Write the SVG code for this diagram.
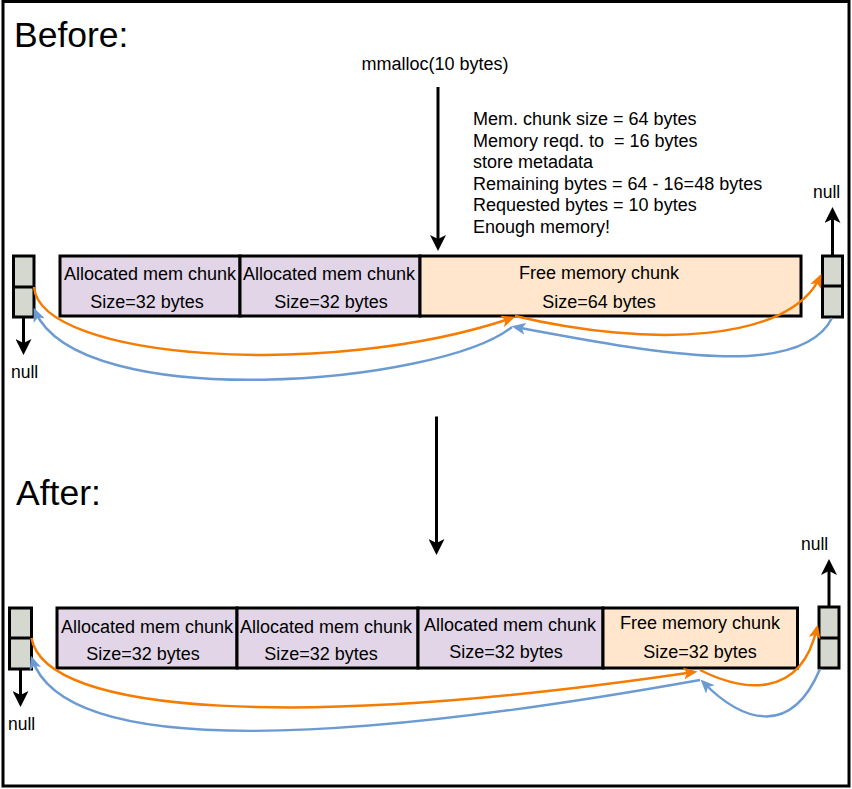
<svg xmlns="http://www.w3.org/2000/svg" width="852" height="789" viewBox="0 0 852 789">
<style>
text{font-family:"Liberation Sans",Arial,Helvetica,sans-serif;fill:#000;white-space:pre}
.t{font-size:18px}
.n{font-size:17.5px}
.h{font-size:35.5px}
.c{text-anchor:middle}
.alloc{fill:#E1D5E7;stroke:#000;stroke-width:3}
.free{fill:#FFE6CC;stroke:#000;stroke-width:3}
.ptr{fill:#D4D8CF;stroke:#000;stroke-width:3}
.blk{fill:none;stroke:#000;stroke-width:3;marker-end:url(#ab)}
.or{fill:none;stroke:#F57C00;stroke-width:2.5;marker-end:url(#ao)}
.bl{fill:none;stroke:#6C9BD2;stroke-width:2.5;marker-end:url(#abl)}
</style>
<defs>
<marker id="ab" markerUnits="userSpaceOnUse" viewBox="0 0 16 16" markerWidth="16" markerHeight="16" refX="12" refY="8" orient="auto"><path d="M0,0 L16,8 L0,16 L4,8 Z" fill="#000"/></marker>
<marker id="ao" markerUnits="userSpaceOnUse" viewBox="0 0 14 12" markerWidth="14" markerHeight="12" refX="10.5" refY="6" orient="auto"><path d="M0,0 L14,6 L0,12 L3.5,6 Z" fill="#F57C00"/></marker>
<marker id="abl" markerUnits="userSpaceOnUse" viewBox="0 0 14 12" markerWidth="14" markerHeight="12" refX="10.5" refY="6" orient="auto"><path d="M0,0 L14,6 L0,12 L3.5,6 Z" fill="#6C9BD2"/></marker>
</defs>
<rect x="3" y="1.5" width="846" height="784.5" fill="#fff" stroke="#000" stroke-width="3"/>

<g id="titles">
<text class="h" x="14" y="47">Before:</text>
<text class="h" x="16" y="505">After:</text>
</g>

<g id="mmalloc-label"><text class="t c" x="435" y="70">mmalloc(10 bytes)</text></g>
<g id="info">
<text class="t" x="473" y="125">Mem. chunk size = 64 bytes</text>
<text class="t" x="473" y="146.5" xml:space="preserve">Memory reqd. to  = 16 bytes</text>
<text class="t" x="473" y="168">store metadata</text>
<text class="t" x="473" y="189.5">Remaining bytes = 64 - 16=48 bytes</text>
<text class="t" x="473" y="211">Requested bytes = 10 bytes</text>
<text class="t" x="473" y="232.5">Enough memory!</text>
</g>

<!-- Before row -->
<g id="b-ptr-left"><rect class="ptr" x="13.5" y="256" width="20.5" height="61"/><line x1="13.5" y1="287" x2="34" y2="287" stroke="#000" stroke-width="3"/></g>
<g id="b-alloc1"><rect class="alloc" x="60" y="256" width="180" height="60"/><text class="t c" x="150" y="280">Allocated mem chunk</text><text class="t c" x="147" y="308">Size=32 bytes</text></g>
<g id="b-alloc2"><rect class="alloc" x="240" y="256" width="180" height="60"/><text class="t c" x="329" y="280">Allocated mem chunk</text><text class="t c" x="331" y="308">Size=32 bytes</text></g>
<g id="b-free"><rect class="free" x="420" y="256" width="381" height="60"/><text class="t c" x="599" y="279">Free memory chunk</text><text class="t c" x="599" y="308">Size=64 bytes</text></g>
<g id="b-ptr-right"><rect class="ptr" x="822.5" y="256" width="20" height="61"/><line x1="822.5" y1="286" x2="842.5" y2="286" stroke="#000" stroke-width="3"/></g>
<g id="b-null-left"><text class="n" x="11" y="378">null</text></g>
<g id="b-null-right"><text class="n" x="813" y="198">null</text></g>

<!-- After row -->
<g id="a-ptr-left"><rect class="ptr" x="9.5" y="608" width="22" height="61"/><line x1="9.5" y1="638" x2="31.5" y2="638" stroke="#000" stroke-width="3"/></g>
<g id="a-alloc1"><rect class="alloc" x="57" y="608" width="180" height="60"/><text class="t c" x="147" y="633">Allocated mem chunk</text><text class="t c" x="143" y="660">Size=32 bytes</text></g>
<g id="a-alloc2"><rect class="alloc" x="237" y="608" width="181" height="60"/><text class="t c" x="326" y="633">Allocated mem chunk</text><text class="t c" x="321" y="660">Size=32 bytes</text></g>
<g id="a-alloc3"><rect class="alloc" x="418" y="608" width="185" height="60"/><text class="t c" x="510" y="631">Allocated mem chunk</text><text class="t c" x="506" y="658">Size=32 bytes</text></g>
<g id="a-free"><rect class="free" x="603" y="608" width="194.5" height="60"/><text class="t c" x="700" y="629">Free memory chunk</text><text class="t c" x="700" y="658">Size=32 bytes</text></g>
<g id="a-ptr-right"><rect class="ptr" x="819" y="607" width="20" height="61"/><line x1="819" y1="638" x2="839" y2="638" stroke="#000" stroke-width="3"/></g>
<g id="a-null-left"><text class="n" x="8" y="730">null</text></g>
<g id="a-null-right"><text class="n" x="801" y="550">null</text></g>

<g id="connectors">
<line class="blk" x1="438" y1="87" x2="438" y2="247"/>
<line class="blk" x1="436.5" y1="416.5" x2="436.5" y2="551"/>
<line class="blk" x1="23.5" y1="317" x2="23.5" y2="351"/>
<line class="blk" x1="832.5" y1="256" x2="832.5" y2="211"/>
<line class="blk" x1="20.5" y1="669" x2="20.5" y2="703"/>
<line class="blk" x1="829" y1="607" x2="829" y2="563"/>

<path class="or" d="M34,287 C40,360 330,380 512,318"/>
<path class="or" d="M515,316 C650,348 790,342 820,277"/>
<path class="bl" d="M832,318 C800,382 650,352 515,327"/>
<path class="bl" d="M512,327 C440,385 80,415 35,311"/>

<path class="or" d="M31.5,638 C45,715 300,730 694,672"/>
<path class="or" d="M700,670 C740,690 800,702 817,628"/>
<path class="bl" d="M820,669 C790,740 740,720 703,682"/>
<path class="bl" d="M700,680 C420,730 70,772 32,659"/>
</g>
</svg>
